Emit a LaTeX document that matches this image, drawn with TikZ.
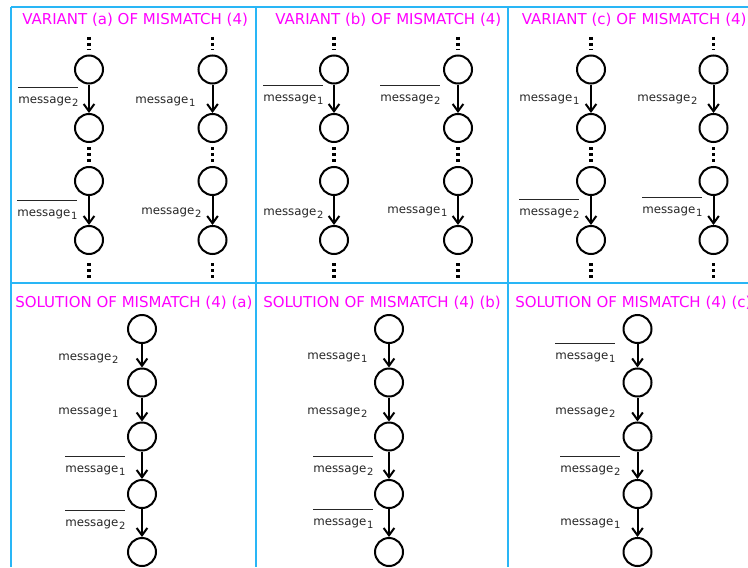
\documentclass[tikz,border=0pt]{standalone}
\usepackage{fontspec}
\setmainfont{DejaVu Sans}
\usetikzlibrary{arrows.meta}
\definecolor{gridblue}{RGB}{41,182,246}
\definecolor{titlemag}{RGB}{255,0,255}
\newcommand{\msg}[1]{message\kern0.6pt\raisebox{-2.6pt}{\fontsize{7.5}{8}\selectfont #1}}
\newcommand{\negmsg}[1]{\vbox{\hrule height 0.6pt\kern6.5pt\hbox{\msg{#1}}}}

\tikzset{
  state/.style={circle, draw, line width=1.5pt, minimum size=21pt, inner sep=0pt},
  flow/.style={line width=1.5pt, -{Straight Barb[length=5.5pt,width=8pt]}},
  dotgap/.style={line width=2.4pt, dash pattern=on 1.9pt off 2.6pt},
  paneltitle/.style={anchor=base west, inner sep=0pt, text=titlemag, font=\fontsize{11.25}{13}\selectfont},
  lab/.style={anchor=base west, inner sep=0pt, text=black!85, font=\fontsize{8.85}{10}\selectfont},
  gridline/.style={draw=gridblue, line width=0.9pt}
}

\begin{document}
\begin{tikzpicture}[x=0.75pt,y=-0.75pt]
  \useasboundingbox (0,0) rectangle (748,567);
  % --- panel grid: 3 columns, 2 rows ---
  \draw[gridline] (11,7) -- (748,7);
  \draw[gridline] (11,283) -- (748,283);
  \draw[gridline] (11,7) -- (11,567);
  \draw[gridline] (256,7) -- (256,567);
  \draw[gridline] (508,7) -- (508,567);
  % --- titles ---
  \node[paneltitle] (ta) at (22,24.7)  {VARIANT (a) OF MISMATCH (4)};
  \node[paneltitle] (tb) at (275,24.7) {VARIANT (b) OF MISMATCH (4)};
  \node[paneltitle] (tc) at (521.5,24.7) {VARIANT (c) OF MISMATCH (4)};
  \node[paneltitle] (sta) at (15,307.1)  {SOLUTION OF MISMATCH (4) (a)};
  \node[paneltitle] (stb) at (263,307.1) {SOLUTION OF MISMATCH (4) (b)};
  \node[paneltitle] (stc) at (515,307.1) {SOLUTION OF MISMATCH (4) (c)};
  % --- variants: two runs per panel, cut by dotted gaps ---
  \foreach \col/\x in {aL/89, aR/212.5, bL/334, bR/458, cL/591, cR/713.5} {
    \foreach \i/\y in {1/69.5, 2/128, 3/181, 4/240}
      \node[state] (\col\i) at (\x,\y) {};
    \coordinate (\col top) at (\x,37);
    \coordinate (\col end) at (\x,280);
    \draw[dotgap, shorten >=4pt] (\col top) -- (\col1);
    \draw[flow] (\col1) -- (\col2);
    \draw[dotgap, shorten <=3pt, shorten >=3pt] (\col2) -- (\col3);
    \draw[flow] (\col3) -- (\col4);
    \draw[dotgap, shorten <=6pt] (\col4) -- (\col end);
  }
  % variant (a)
  \node[lab] (laL1) at (18,103)  {\negmsg{2}};
  \node[lab] (laR1) at (135,103) {\msg{1}};
  \node[lab] (laL2) at (17,216)  {\negmsg{1}};
  \node[lab] (laR2) at (141,214) {\msg{2}};
  % variant (b)
  \node[lab] (lbL1) at (263,101) {\negmsg{1}};
  \node[lab] (lbR1) at (380,101) {\negmsg{2}};
  \node[lab] (lbL2) at (263,215) {\msg{2}};
  \node[lab] (lbR2) at (387,213) {\msg{1}};
  % variant (c)
  \node[lab] (lcL1) at (519,101) {\msg{1}};
  \node[lab] (lcR1) at (637,101) {\msg{2}};
  \node[lab] (lcL2) at (519,215) {\negmsg{2}};
  \node[lab] (lcR2) at (642,213) {\negmsg{1}};
  % --- solutions: one run of five states ---
  \foreach \col/\x in {sa/142, sb/389, sc/637.5} {
    \foreach \i/\y in {1/329, 2/382.5, 3/436.5, 4/494, 5/552}
      \node[state] (\col\i) at (\x,\y) {};
    \foreach \i/\j in {1/2, 2/3, 3/4, 4/5}
      \draw[flow] (\col\i) -- (\col\j);
  }
  % solution (a)
  \node[lab] (lsa1) at (58,360) {\msg{2}};
  \node[lab] (lsa2) at (58,414) {\msg{1}};
  \node[lab] (lsa3) at (65,472) {\negmsg{1}};
  \node[lab] (lsa4) at (65,526) {\negmsg{2}};
  % solution (b)
  \node[lab] (lsb1) at (307,359) {\msg{1}};
  \node[lab] (lsb2) at (307,414) {\msg{2}};
  \node[lab] (lsb3) at (313,472) {\negmsg{2}};
  \node[lab] (lsb4) at (313,525) {\negmsg{1}};
  % solution (c)
  \node[lab] (lsc1) at (555,359) {\negmsg{1}};
  \node[lab] (lsc2) at (555,414) {\msg{2}};
  \node[lab] (lsc3) at (560,472) {\negmsg{2}};
  \node[lab] (lsc4) at (560,525) {\msg{1}};
\end{tikzpicture}
\end{document}
